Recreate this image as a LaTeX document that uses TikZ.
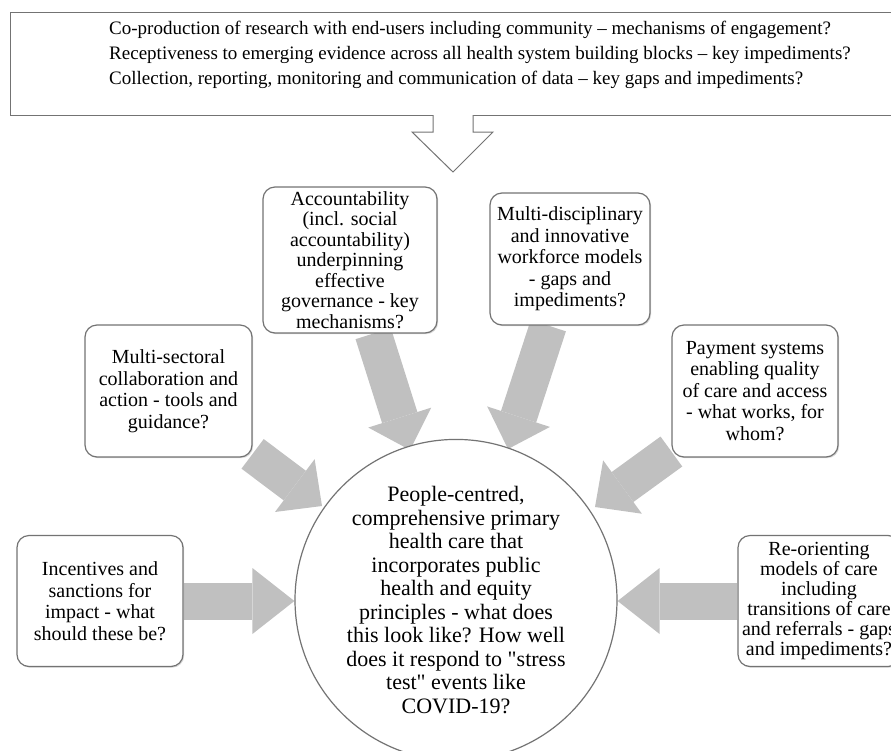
\documentclass[tikz,border=0pt]{standalone}
\usepackage{fontspec}
\setmainfont{Liberation Serif}
\usetikzlibrary{arrows.meta, shapes.geometric, backgrounds, shadows}
\definecolor{framegray}{RGB}{115,115,115}
\definecolor{flowgray}{RGB}{192,192,192}

\begin{document}
\begin{tikzpicture}[x=1pt, y=-1pt,
  topic/.style={draw=framegray, line width=1.2pt, fill=white, rounded corners=12pt,
    align=center, inner sep=0pt, font=\fontsize{20}{21.5}\selectfont,
    drop shadow={shadow xshift=1.2pt, shadow yshift=-1.2pt, opacity=0.3}},
  core/.style={ellipse, draw=framegray, line width=1.2pt, fill=white, align=center,
    inner sep=0pt, font=\fontsize{22}{23.5}\selectfont},
  flow/.style={line width=37pt, flowgray, -{Triangle[length=34pt, width=66pt, line width=0pt]}},
  hflow/.style={flow, -{Triangle[length=42pt, width=66pt, line width=0pt]}}
]
\path[use as bounding box, clip] (0,0) rectangle (891,750);

% research questions across the system
\node[draw=framegray, line width=1pt, fill=white, minimum width=937pt, minimum height=103pt] (frame) at (478.5,63.5) {};
\node[font=\fontsize{19}{25}\selectfont, align=left] (gaps) at (480,55)
  {Co-production of research with end-users including community -- mechanisms of engagement?\\
   Receptiveness to emerging evidence across all health system building blocks -- key impediments?\\
   Collection, reporting, monitoring and communication of data -- key gaps and impediments?};
\fill[white] (433,110) -- (433,132) -- (412,132) -- (453,172) -- (493,132) -- (473,132) -- (473,110) -- cycle;
\draw[framegray, line width=1pt] (433,115) -- (433,132) -- (412,132) -- (453,172) -- (493,132) -- (473,132) -- (473,115);

% building blocks
\node[topic, minimum width=174pt, minimum height=146pt, font=\fontsize{20}{20.5}\selectfont] (acc) at (350,260)
  {Accountability\\(incl. social\\accountability)\\underpinning\\effective\\governance - key\\mechanisms?};
\node[topic, minimum width=160pt, minimum height=132pt] (work) at (570,259)
  {Multi-disciplinary\\and innovative\\workforce models\\- gaps and\\impediments?};
\node[topic, minimum width=167pt, minimum height=132pt] (sect) at (168.5,391)
  {Multi-sectoral\\collaboration and\\action - tools and\\guidance?};
\node[topic, minimum width=166pt, minimum height=132pt] (pay) at (755,391)
  {Payment systems\\enabling quality\\of care and access\\- what works, for\\whom?};
\node[topic, minimum width=166pt, minimum height=131pt] (inc) at (100,601)
  {Incentives and\\sanctions for\\impact - what\\should these be?};
\node[topic, minimum width=162pt, minimum height=131pt, font=\fontsize{20}{20}\selectfont] (reor) at (819,601)
  {Re-orienting\\models of care\\including\\transitions of care\\and referrals - gaps\\and impediments?};

\node[core, minimum width=322pt, minimum height=296pt] (phc) at (456,600)
  {People-centred,\\comprehensive primary\\health care that\\incorporates public\\health and equity\\principles - what does\\this look like? How well\\does it respond to \textquotedbl stress\\test\textquotedbl{} events like\\COVID-19?};

\coordinate (tipSect) at (322,506);
\coordinate (tipAcc) at (410,450);
\coordinate (tipWork) at (508,449);
\coordinate (tipPay) at (595,507);

\begin{pgfonlayer}{background}
\draw[flow] (sect) -- (tipSect);
\draw[flow] (acc) -- (tipAcc);
\draw[flow] (work) -- (tipWork);
\draw[flow] (pay) -- (tipPay);
\draw[hflow] (inc) -- (inc -| phc.west);
\draw[hflow] (reor) -- (reor -| phc.east);
\end{pgfonlayer}
\end{tikzpicture}
\end{document}
